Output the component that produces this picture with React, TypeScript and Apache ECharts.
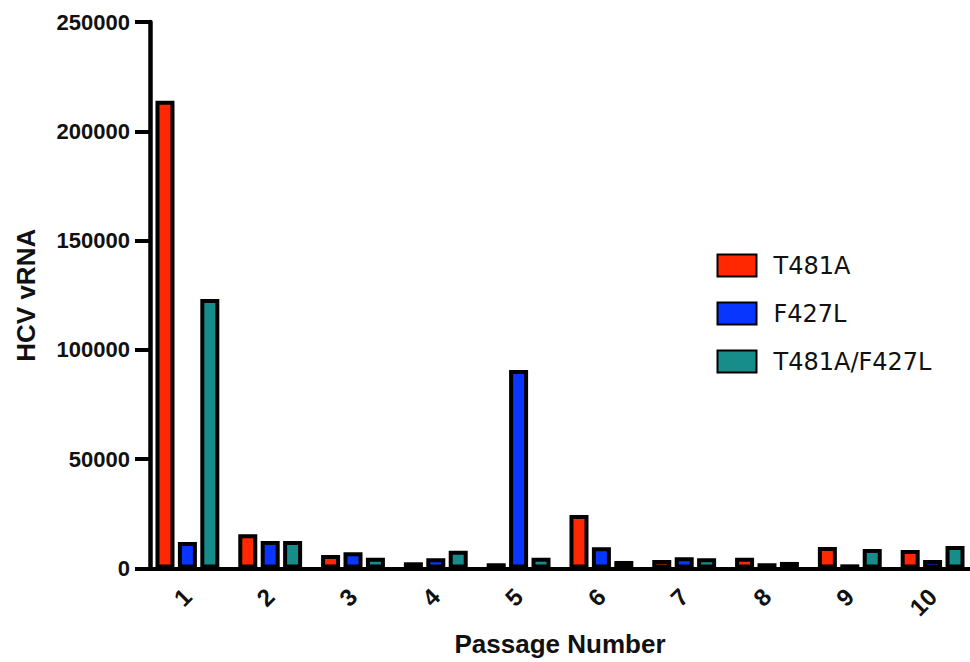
import React, { useEffect, useRef } from "react";
import * as echarts from "echarts";

const categories = ["1", "2", "3", "4", "5", "6", "7", "8", "9", "10"];
const seriesNames = ["T481A", "F427L", "T481A/F427L"];
const t481a = [214000, 15650, 6200, 2850, 2400, 24500, 3900, 4950, 9850, 8450];
const f427l = [12100, 12600, 7400, 4650, 90800, 9700, 5100, 2400, 1900, 3900];
const double = [123300, 12600, 4950, 8150, 4950, 3450, 4650, 3000, 8900, 10300];
const colors = ["#ff2800", "#0836ff", "#178d8b"];
const yTicks = { min: 0, max: 250000, interval: 50000 };

const FONT = "Liberation Sans";
const LEGEND_FONT = "DejaVu Sans";

export default function App() {
  const ref = useRef<HTMLDivElement>(null);
  useEffect(() => {
    if (!ref.current) return;
    const chart = echarts.init(ref.current, null, { renderer: "svg" });
    const values = [t481a, f427l, double];
    chart.setOption({
      animation: false,
      backgroundColor: "#ffffff",
      grid: { left: 146, right: -4, top: 22, bottom: 93.5, containLabel: false, outerBoundsMode: "none" },
      legend: {
        orient: "vertical",
        left: 711.5,
        top: 248.5,
        icon: "rect",
        itemWidth: 39,
        itemHeight: 22,
        itemGap: 24,
        textStyle: {
          fontFamily: LEGEND_FONT,
          fontSize: 24,
          lineHeight: 22,
          color: "#111",
          padding: [0, 0, 0, 12],
        },
        data: seriesNames,
      },
      xAxis: {
        type: "category",
        data: categories,
        name: "Passage Number",
        nameLocation: "middle",
        nameGap: 62,
        nameTextStyle: { fontFamily: FONT, fontWeight: "bold", fontSize: 26, color: "#111" },
        axisLine: { lineStyle: { color: "#000", width: 4 } },
        axisTick: { alignWithLabel: true, length: 11, lineStyle: { color: "#000", width: 4 } },
        axisLabel: {
          rotate: 45,
          margin: 24,
          fontFamily: FONT,
          fontWeight: "bold",
          fontSize: 24,
          color: "#111",
        },
      },
      yAxis: {
        type: "value",
        min: yTicks.min,
        max: yTicks.max,
        interval: yTicks.interval,
        offset: -4,
        name: "HCV vRNA",
        nameLocation: "middle",
        nameGap: 111,
        nameTextStyle: { fontFamily: FONT, fontWeight: "bold", fontSize: 26, color: "#111" },
        splitLine: { show: false },
        axisLine: { show: true, lineStyle: { color: "#000", width: 4.5 } },
        axisTick: { show: true, length: 15, lineStyle: { color: "#000", width: 4 } },
        axisLabel: {
          margin: 20,
          formatter: (v: number) => String(v),
          fontFamily: FONT,
          fontWeight: "bold",
          fontSize: 22,
          color: "#111",
        },
      },
      series: seriesNames.map((name, i) => ({
        name,
        type: "bar",
        data: values[i],
        barWidth: 19,
        barGap: "18%",
        itemStyle: { color: colors[i], borderColor: "#000", borderWidth: 4 },
      })),
    });
    return () => chart.dispose();
  }, []);
  return <div ref={ref} style={{ width: 970, height: 662, position: "absolute", left: 0, top: 0 }} />;
}
